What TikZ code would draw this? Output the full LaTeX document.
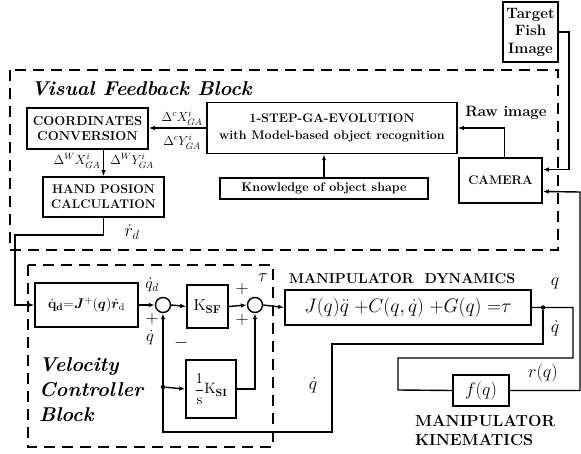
\documentclass[tikz,border=0pt]{standalone}
\usepackage{fix-cm}
\usepackage{amsmath,amssymb,bm}
\usetikzlibrary{arrows.meta,positioning}

\begin{document}
\begin{tikzpicture}[x=1pt,y=-1pt,
  blk/.style={draw, line width=1.5pt, inner sep=1pt, align=center, font=\bfseries\fontsize{12.5}{15}\selectfont},
  sumc/.style={draw, circle, line width=1.4pt, minimum size=15pt, inner sep=0pt},
  frame/.style={draw, line width=2.3pt, dash pattern=on 11pt off 7pt},
  lab/.style={font=\fontsize{13}{14}\selectfont, inner sep=1pt},
  ttl/.style={font=\bfseries\itshape\fontsize{20}{25}\selectfont, align=left, inner sep=0pt},
  dot/.style={circle, fill, inner sep=0pt, minimum size=4.5pt},
  arr/.style={-{Latex[length=6pt,width=4.5pt]}, line width=1.4pt},
  ln/.style={line width=1.4pt}]
  \useasboundingbox (0,0) rectangle (581,454);
  % visual feedback part
  \draw[frame] (10,70) rectangle (558,250);
  \node[ttl, anchor=west] (vfbt) at (31,89) {Visual Feedback Block};
  \node[blk, minimum width=55pt, minimum height=60pt, font=\bfseries\fontsize{15}{17.5}\selectfont, inner sep=0pt] (target) at (530.5,32) {Target\\Fish\\Image};
  \node[blk, minimum width=83pt, minimum height=45pt] (camera) at (500.5,180.5) {CAMERA};
  \node[blk, minimum width=250pt, minimum height=51pt, font=\bfseries\fontsize{12.5}{17}\selectfont] (ga) at (332,128) {1-STEP-GA-EVOLUTION\\with Model-based object recognition};
  \node[blk, minimum width=208pt, minimum height=21pt] (know) at (324,188.5) {Knowledge of object shape};
  \node[blk, minimum width=121pt, minimum height=41pt, font=\bfseries\fontsize{13}{15}\selectfont] (cc) at (87.5,128.5) {COORDINATES\\CONVERSION};
  \node[blk, minimum width=121pt, minimum height=40pt, font=\bfseries\fontsize{12.5}{15}\selectfont] (hp) at (103.5,197) {HAND POSION\\CALCULATION};
  \node[lab, font=\bfseries\fontsize{15}{17}\selectfont] (raw) at (506,113) {Raw image};
  \node[lab] (dcx) at (182,118) {$\Delta^{c}X^{i}_{GA}$};
  \node[lab] (dcy) at (182,142) {$\Delta^{c}Y^{i}_{GA}$};
  \node[lab] (dwx) at (77,161) {$\Delta^{W}X^{i}_{GA}$};
  \node[lab] (dwy) at (132,161) {$\Delta^{W}Y^{i}_{GA}$};
  \node[lab, font=\fontsize{18}{20}\selectfont] (rd) at (132,232) {$\dot r_d$};
  \draw[arr] (target.east) -- (569,32) |- ([yshift=11pt]camera.east);
  \draw[arr] ([xshift=4pt]camera.north) |- (ga.east);
  \draw[arr] (know.north) -- (know.north |- ga.south);
  \draw[arr] (ga.west) -- (cc.east |- ga.west);
  \draw[arr] (hp.north |- cc.south) -- (hp.north);
  % velocity controller part
  \draw[frame] (28,265) rectangle (273,447);
  \node[ttl, anchor=west] (vcbt) at (39,390) {Velocity\\Controller\\Block};
  \node[blk, minimum width=103pt, minimum height=44pt, font=\fontsize{14}{16}\selectfont] (qd) at (86.5,305) {$\dot{\mathbf{q}}_{\mathbf{d}}{=}\bm{J}^{+}(\bm{q})\dot{\bm{r}}_{\mathrm{d}}$};
  \node[sumc] (s1) at (163,305) {};
  \node[blk, minimum width=41pt, minimum height=43pt, font=\fontsize{16}{18}\selectfont] (ksf) at (207.5,306.5) {$\mathrm{K}_{\mathbf{SF}}$};
  \node[sumc] (s2) at (255,305) {};
  \node[blk, minimum width=50pt, minimum height=58pt, font=\fontsize{15}{17}\selectfont] (ksi) at (211,389) {$\dfrac{1}{\mathrm{s}}\mathrm{K}_{\mathbf{SI}}$};
  \node[blk, minimum width=246pt, minimum height=35pt, font=\fontsize{19.5}{21}\selectfont] (dyn) at (408,307.5) {$J(q)\ddot q\;{+}C(q,\dot q)\;{+}G(q)\;{=}\tau$};
  \node[lab, font=\bfseries\fontsize{14.3}{17}\selectfont] (dynt) at (402,279) {MANIPULATOR\ \ DYNAMICS};
  \node[blk, minimum width=56pt, minimum height=31pt, font=\fontsize{18}{20}\selectfont] (fq) at (481,390.5) {$f(q)$};
  \node[lab, font=\bfseries\fontsize{16}{19}\selectfont, align=left] (kint) at (485,430) {MANIPULATOR\\KINEMATICS};
  \node[lab, font=\fontsize{16}{18}\selectfont] (qdl) at (152,285) {$\dot q_d$};
  \node[lab, font=\fontsize{18}{20}\selectfont] (p1) at (152,319) {$+$};
  \node[lab, font=\fontsize{17}{19}\selectfont] (qfb) at (150,338) {$\dot q$};
  \node[lab, font=\fontsize{18}{20}\selectfont] (m1) at (181,343) {$-$};
  \node[lab, font=\fontsize{18}{20}\selectfont] (p2) at (242,289) {$+$};
  \node[lab, font=\fontsize{18}{20}\selectfont] (p3) at (242,320) {$+$};
  \node[lab, font=\fontsize{18}{20}\selectfont] (tau) at (263,278) {$\tau$};
  \node[lab, font=\fontsize{18}{20}\selectfont] (ql) at (555,283) {$q$};
  \node[lab, font=\fontsize{18}{20}\selectfont] (qdotl) at (555,328) {$\dot q$};
  \node[lab, font=\fontsize{18}{20}\selectfont] (rq) at (543,373) {$r(q)$};
  \node[lab, font=\fontsize{18}{20}\selectfont] (qdot2) at (313,385) {$\dot q$};
  \node[dot] (j1) at (543,307.5) {};
  \node[dot] (j2) at (163,387) {};
  \draw[arr] (hp.south) |- (15,235) |- (qd.west);
  \draw[arr] (qd.east) -- (s1.west);
  \draw[arr] (s1.east) -- (ksf.west);
  \draw[arr] (ksf.east) -- (s2.west);
  \draw[arr] (s2.east) -- (dyn.west);
  \draw[arr] (j2) -- (ksi.west);
  \draw[arr] (ksi.east) -| (s2.south);
  \draw[ln] (dyn.east) -- (573,307.5) -- (573,358) -| (398,390) -- (fq.west);
  \draw[arr] (j1) |- (332,344) |- (163,432) -- (s1.south);
  \draw[arr] (fq.east) -| (580,192) -- ([yshift=-11pt]camera.east);
\end{tikzpicture}
\end{document}
